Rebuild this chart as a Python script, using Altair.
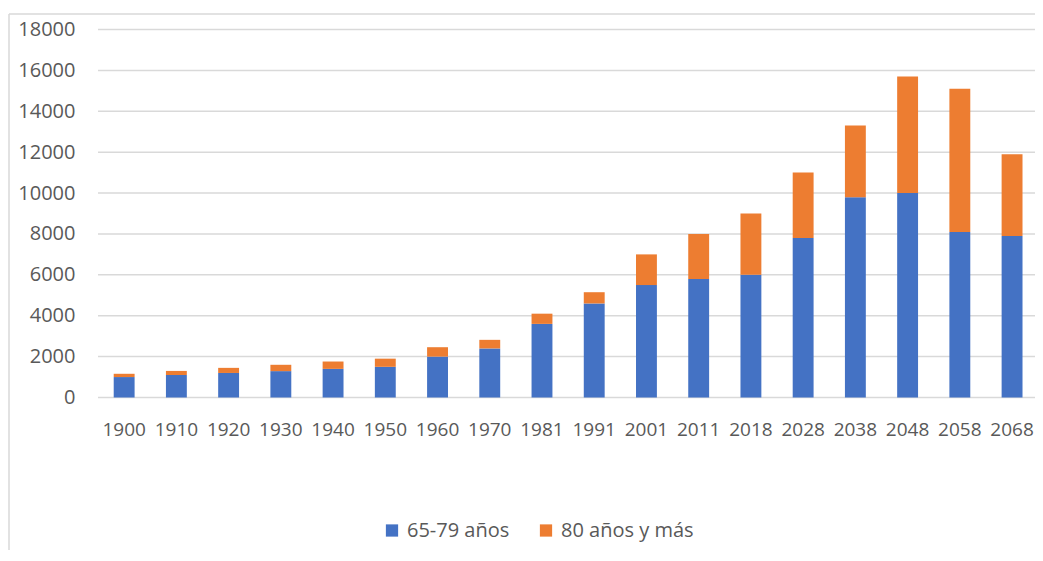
import altair as alt
import pandas as pd

years = ["1900", "1910", "1920", "1930", "1940", "1950", "1960", "1970", "1981",
         "1991", "2001", "2011", "2018", "2028", "2038", "2048", "2058", "2068"]
age_65_79 = [1000, 1100, 1200, 1290, 1400, 1500, 2000, 2400, 3600,
             4600, 5500, 5800, 6000, 7800, 9800, 10000, 8100, 7900]
age_80_plus = [160, 200, 250, 310, 360, 400, 460, 420, 500,
               550, 1500, 2200, 3000, 3200, 3500, 5700, 7000, 4000]
series_names = ["65-79 años", "80 años y más"]
series_colors = ["#4472C4", "#ED7D31"]
y_ticks = [0, 2000, 4000, 6000, 8000, 10000, 12000, 14000, 16000, 18000]

rows = []
for i, y in enumerate(years):
    rows.append({"year": y, "serie": series_names[0], "valor": age_65_79[i], "orden": 0})
    rows.append({"year": y, "serie": series_names[1], "valor": age_80_plus[i], "orden": 1})
df = pd.DataFrame(rows)
grid_df = pd.DataFrame({"valor": y_ticks})
border_df = pd.DataFrame({"k": [0]})

FONT = "Open Sans"
GRAY = "#595959"
GRID = "#D9D9D9"
W = 925

yscale = alt.Scale(domain=[0, 18000], nice=False)
yaxis = alt.Axis(values=y_ticks, format="d", ticks=False, domain=False, grid=False,
                 labelPadding=23, labelFontSize=20, labelColor=GRAY, labelFont=FONT)

gridlines = alt.Chart(grid_df).mark_rule(color=GRID, strokeWidth=1.5).encode(
    y=alt.Y("valor:Q", scale=yscale, axis=yaxis, title=None),
    x=alt.value(0), x2=alt.value(W + 20))

bars = alt.Chart(df).mark_bar().encode(
    x=alt.X("year:N", sort=years, title=None,
            scale=alt.Scale(paddingInner=0.6, paddingOuter=0.155, align=0.97),
            axis=alt.Axis(labelAngle=0, ticks=False, domain=False, labelPadding=23,
                          labelFontSize=19, labelColor=GRAY, labelFont=FONT,
                          grid=False)),
    y=alt.Y("valor:Q", stack="zero", title=None, scale=yscale, axis=yaxis),
    color=alt.Color("serie:N", title=None,
                    scale=alt.Scale(domain=series_names, range=series_colors),
                    legend=alt.Legend(orient="none", direction="horizontal",
                                      legendX=284, legendY=491,
                                      symbolType="square", symbolSize=150,
                                      symbolStrokeWidth=0, symbolOpacity=1,
                                      labelFontSize=20, labelColor=GRAY, labelFont=FONT,
                                      labelOffset=5)),
    order=alt.Order("orden:Q", sort="ascending"),
)

border_left = alt.Chart(border_df).mark_rule(color=GRID, strokeWidth=1.5).encode(
    x=alt.value(-89), y=alt.value(-15.5), y2=alt.value(600))
border_top = alt.Chart(border_df).mark_rule(color=GRID, strokeWidth=1.5).encode(
    x=alt.value(-89), x2=alt.value(1000), y=alt.value(-15.5))

chart = alt.layer(gridlines, bars, border_left, border_top).properties(
    width=W, height=368,
    padding={"left": 90, "top": 21.5, "right": 12, "bottom": 152},
    autosize=alt.AutoSizeParams(type="none"),
    view=alt.ViewBackground(stroke="transparent", strokeWidth=0),
).configure_view(stroke="transparent", strokeWidth=0).configure(
    background="white").configure_legend(columnPadding=26)

chart.save("out.html", embed_options={"renderer": "svg", "actions": False})
